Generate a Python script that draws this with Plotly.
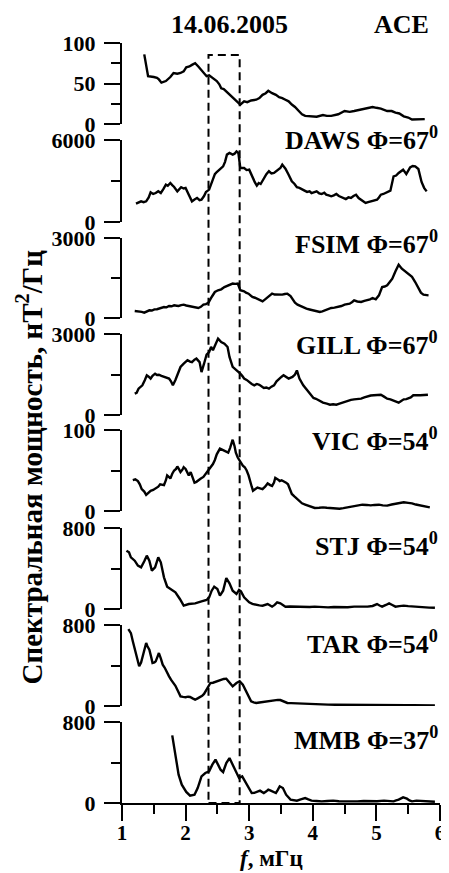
import plotly.graph_objects as go

# ---------------- data ----------------
ace_f = [1.35,1.41,1.50,1.55,1.58,1.62,1.69,1.76,1.81,1.87,1.92,1.97,2.01,2.06,2.10,2.15,2.20,2.27,2.33,2.37,2.41,2.45,2.49,2.53,2.56,2.60,2.64,2.68,2.72,2.76,2.80,2.86,2.92,2.97,3.03,3.11,3.16,3.21,3.26,3.30,3.36,3.42,3.47,3.52,3.57,3.62,3.67,3.72,3.78,3.83,3.88,3.98,4.06,4.16,4.22,4.29,4.40,4.50,4.58,4.65,4.72,4.78,4.86,4.94,5.00,5.07,5.17,5.24,5.30,5.36,5.43,5.50,5.56,5.65,5.76]
ace_p = [86,59,58,57,55,51,53,58,63,62,63,65,70,71,73,75,71,65,59,60,58,55,53,49,44,43,40,38,35,32,28,24,28,27,29,30,32,36,38,41,38,36,33,32,30,28,24,21,16,12,10,9.5,9,11,10,10,12,16,15,16,17,18,19,21,20,19,16,16,14,13,9.5,8,5.5,6,6]

daws_f = [1.22,1.26,1.30,1.34,1.38,1.42,1.45,1.49,1.53,1.57,1.61,1.65,1.69,1.72,1.76,1.79,1.82,1.87,1.90,1.93,1.97,2.00,2.05,2.10,2.14,2.18,2.22,2.25,2.29,2.32,2.37,2.40,2.43,2.46,2.49,2.54,2.59,2.62,2.65,2.69,2.74,2.77,2.80,2.83,2.86,2.92,2.96,3.00,3.03,3.06,3.09,3.12,3.15,3.18,3.23,3.27,3.31,3.35,3.39,3.45,3.49,3.52,3.57,3.62,3.67,3.71,3.75,3.79,3.83,3.87,3.91,3.95,3.98,4.02,4.06,4.10,4.14,4.18,4.21,4.25,4.29,4.33,4.37,4.41,4.45,4.49,4.52,4.56,4.60,4.64,4.68,4.72,4.76,4.80,4.83,4.87,4.91,4.96,5.01,5.04,5.07,5.11,5.14,5.18,5.22,5.27,5.31,5.35,5.39,5.42,5.47,5.50,5.53,5.57,5.61,5.66,5.71,5.75,5.79]
daws_p = [1340,1400,1510,1450,1510,1800,2170,2050,2120,2250,2120,2400,2730,2650,2850,2700,2560,2240,2400,2540,2450,2490,2000,1510,1650,1760,1600,1630,1900,2200,2370,2800,3220,3500,3660,3900,4070,4400,4930,5050,4930,5000,5170,5050,3950,3950,3800,3830,3500,3220,2900,2660,2850,2780,3220,3500,3710,3550,3590,3830,3950,4200,3900,3460,2980,2800,2540,2500,2370,2300,2200,2250,2120,2200,2240,2100,2050,2150,2000,1950,1880,1950,2050,1900,1800,1750,1680,1800,1760,1900,2000,1750,1630,1500,1390,1450,1510,1550,1630,1800,2000,2050,2120,2200,2290,3340,3400,3590,3700,3830,3510,3800,4000,4100,4070,3880,2930,2500,2240]

fsim_f = [1.20,1.27,1.31,1.35,1.39,1.43,1.47,1.51,1.55,1.58,1.62,1.66,1.70,1.74,1.78,1.82,1.86,1.89,1.93,1.97,2.01,2.05,2.09,2.12,2.16,2.20,2.24,2.28,2.32,2.36,2.41,2.46,2.51,2.56,2.61,2.67,2.74,2.78,2.82,2.86,2.92,2.95,2.99,3.02,3.05,3.09,3.13,3.17,3.21,3.25,3.29,3.32,3.36,3.40,3.44,3.48,3.52,3.56,3.60,3.65,3.72,3.76,3.80,3.85,3.90,3.95,4.01,4.06,4.11,4.15,4.19,4.24,4.29,4.34,4.40,4.45,4.50,4.54,4.58,4.62,4.65,4.70,4.76,4.81,4.86,4.90,4.94,4.99,5.04,5.09,5.13,5.17,5.21,5.25,5.30,5.35,5.40,5.44,5.48,5.52,5.56,5.61,5.66,5.70,5.74,5.82]
fsim_p = [262,250,230,200,250,288,280,325,330,350,380,412,400,450,440,475,460,450,480,500,470,450,430,412,390,375,420,500,520,575,788,975,1040,1075,1160,1225,1290,1280,1290,1040,1000,950,912,850,788,760,725,680,625,700,788,850,912,880,875,890,875,900,912,825,575,500,450,400,350,320,288,260,225,250,288,330,375,390,412,450,500,520,538,600,662,620,600,640,662,700,750,700,850,1160,1180,1225,1350,1475,1750,2000,1850,1780,1700,1620,1540,1350,1100,950,875,850]

gill_f = [1.20,1.23,1.26,1.29,1.32,1.36,1.39,1.42,1.45,1.48,1.52,1.55,1.58,1.62,1.66,1.70,1.74,1.77,1.80,1.84,1.87,1.92,1.97,2.03,2.07,2.10,2.14,2.17,2.22,2.25,2.29,2.33,2.37,2.40,2.43,2.48,2.51,2.56,2.61,2.66,2.69,2.74,2.78,2.81,2.86,2.89,2.92,2.96,3.00,3.04,3.08,3.12,3.16,3.20,3.23,3.27,3.31,3.35,3.39,3.43,3.47,3.51,3.54,3.58,3.62,3.68,3.72,3.75,3.79,3.85,3.89,3.93,3.97,4.01,4.05,4.09,4.16,4.22,4.27,4.32,4.37,4.42,4.47,4.51,4.55,4.60,4.65,4.70,4.76,4.81,4.86,4.91,4.96,5.02,5.07,5.12,5.17,5.22,5.26,5.30,5.35,5.39,5.43,5.47,5.50,5.54,5.58,5.63,5.69,5.75,5.81]
gill_p = [790,820,975,1050,1100,1300,1470,1420,1350,1450,1530,1480,1490,1450,1410,1380,1350,1250,1100,1300,1470,1780,1900,2030,1980,1960,2050,2090,1960,1590,1900,2240,2330,2520,2400,2700,2830,2700,2640,2520,2150,1780,1700,1650,1530,1450,1350,1300,1220,1150,1100,1150,1120,1050,1000,1020,975,1050,1100,1250,1350,1420,1470,1400,1350,1410,1500,1650,1350,1100,980,875,760,630,600,545,457,420,383,400,383,420,457,500,545,560,580,590,605,650,700,720,730,740,750,680,605,580,545,500,457,520,580,590,605,650,730,720,730,740,750]

vic_f = [1.17,1.21,1.25,1.28,1.31,1.35,1.38,1.42,1.45,1.49,1.53,1.57,1.60,1.63,1.66,1.69,1.71,1.74,1.76,1.79,1.82,1.85,1.87,1.90,1.92,1.95,1.97,2.00,2.03,2.05,2.08,2.11,2.14,2.17,2.20,2.24,2.28,2.32,2.36,2.40,2.43,2.46,2.49,2.54,2.57,2.60,2.64,2.67,2.70,2.72,2.74,2.77,2.79,2.82,2.86,2.90,2.93,2.96,2.99,3.01,3.04,3.06,3.10,3.13,3.17,3.21,3.25,3.29,3.33,3.36,3.39,3.41,3.45,3.48,3.51,3.54,3.58,3.61,3.64,3.67,3.71,3.75,3.79,3.83,3.88,3.93,3.98,4.03,4.10,4.16,4.22,4.29,4.35,4.42,4.48,4.55,4.60,4.65,4.72,4.78,4.85,4.91,4.97,5.04,5.10,5.17,5.24,5.32,5.38,5.43,5.50,5.56,5.62,5.69,5.76,5.84]
vic_p = [38,39,37,33,27,24,20,23,25,26,28,30,33,32,32,38,44,42,40,46,50,52,55,51,48,51,54,52,46,44,48,42,35,36,38,40,42,46,50,55,58,63,70,77,76,75,73,72,78,83,88,80,72,66,60,56,54,50,44,37,30,25,27,29,28,27,30,34,32,31,35,41,39,37,38,37,35,33,28,21,18,15,12,9.5,8,6.6,5,3.7,4,4.5,4,3.7,3,2.8,3.5,4.5,5,5.3,6.5,7.8,7.5,7.0,7.5,7.8,7,6.6,8,9.5,10,10.7,10,9.5,8,6.6,5.5,4.5]

stj_f = [1.07,1.11,1.14,1.17,1.20,1.25,1.30,1.35,1.39,1.43,1.47,1.52,1.57,1.61,1.66,1.71,1.77,1.84,1.91,1.97,2.05,2.15,2.25,2.33,2.37,2.41,2.45,2.50,2.54,2.59,2.64,2.69,2.74,2.80,2.84,2.87,2.92,2.96,3.00,3.05,3.11,3.16,3.21,3.25,3.29,3.33,3.36,3.40,3.44,3.49,3.53,3.57,3.64,3.72,3.80,3.88,3.95,4.03,4.12,4.24,4.33,4.45,4.55,4.65,4.75,4.86,4.94,5.01,5.05,5.09,5.15,5.20,5.25,5.30,5.36,5.43,5.50,5.58,5.66,5.74,5.83,5.92]
stj_p = [576,560,510,490,477,428,411,471,527,477,379,411,510,461,313,221,198,165,99,33,49,56,76,89,115,181,221,198,132,181,306,253,181,148,188,174,115,90,66,50,40,36,33,40,49,35,23,40,66,56,35,23,25,23,18,16,20,23,18,16,20,16,18,23,20,23,30,49,35,23,40,56,40,23,28,33,28,23,20,16,14,12]

tar_f = [1.10,1.14,1.17,1.20,1.22,1.25,1.27,1.30,1.32,1.35,1.38,1.40,1.43,1.46,1.48,1.51,1.53,1.56,1.58,1.61,1.64,1.67,1.69,1.72,1.74,1.77,1.81,1.84,1.87,1.92,1.96,2.00,2.04,2.07,2.11,2.15,2.19,2.23,2.26,2.29,2.34,2.39,2.43,2.46,2.50,2.54,2.57,2.60,2.64,2.69,2.74,2.80,2.85,2.90,2.96,3.00,3.03,3.07,3.11,3.16,3.21,3.26,3.31,3.36,3.41,3.45,3.49,3.55,3.60,3.66,3.72,3.80,3.88,3.96,4.03,4.14,4.24,4.35,4.45,4.55,4.65,4.75,4.86,4.97,5.07,5.17,5.27,5.38,5.48,5.58,5.69,5.80,5.92]
tar_p = [760,720,639,570,507,440,392,430,474,560,622,590,556,480,425,430,441,490,523,470,408,380,359,320,293,260,227,200,161,95,90,86,92,89,75,63,75,86,100,119,178,227,230,237,245,250,260,267,270,227,194,227,244,211,128,80,46,35,30,35,40,44,46,55,63,60,59,45,30,28,26,25,23,20,16,15,14,13,12,11,10,10,9,9,8,8,8,8,8,8,7,7,6]

mmb_f = [1.79,1.82,1.85,1.89,1.94,2.01,2.07,2.14,2.19,2.22,2.25,2.31,2.37,2.42,2.47,2.51,2.55,2.59,2.64,2.69,2.74,2.80,2.84,2.89,2.94,2.99,3.04,3.08,3.11,3.14,3.17,3.20,3.23,3.27,3.30,3.33,3.36,3.39,3.42,3.45,3.48,3.53,3.58,3.65,3.70,3.75,3.81,3.88,3.93,3.98,4.06,4.14,4.23,4.32,4.41,4.50,4.60,4.70,4.80,4.91,5.01,5.12,5.20,5.27,5.31,5.35,5.42,5.48,5.52,5.56,5.63,5.69,5.75,5.81,5.87,5.92]
mmb_p = [668,543,411,280,181,109,72,82,148,210,263,296,313,379,428,379,329,306,395,444,379,296,247,263,207,148,99,100,109,115,122,110,99,115,132,125,115,105,99,130,165,148,82,33,28,23,35,49,35,23,20,16,20,23,18,16,18,16,20,16,18,23,20,16,25,33,56,43,25,16,23,20,16,18,14,12]

series_f = [ace_f, daws_f, fsim_f, gill_f, vic_f, stj_f, tar_f, mmb_f]
series_p = [ace_p, daws_p, fsim_p, gill_p, vic_p, stj_p, tar_p, mmb_p]
panel_top = [100, 6000, 3000, 3000, 100, 800, 800, 800]
labels = ["", "DAWS Φ=67<sup>0</sup>", "FSIM Φ=67<sup>0</sup>", "GILL Φ=67<sup>0</sup>",
          "VIC Φ=54<sup>0</sup>", "STJ Φ=54<sup>0</sup>", "TAR Φ=54<sup>0</sup>", "MMB Φ=37<sup>0</sup>"]
x_ticks = [1, 2, 3, 4, 5, 6]
band = [2.36, 2.85]

# ---------------- layout helpers ----------------
W, H = 449, 873
L, R, T, B = 114, 12, 35, 78
ph = H - T - B
tops_px = [35, 132, 230, 326, 422, 520, 617, 714]
bots_px = [116, 214, 310, 407, 503, 601, 698, 795]
label_y_px = [0, 130, 234, 335, 431, 536, 634, 730]

def py(p):
    return (H - B - p) / ph

def px(p):
    return (p - L) / (W - L - R)

FONT = "Liberation Serif, Times New Roman, serif"

fig = go.Figure()
layout = dict(
    width=W, height=H,
    margin=dict(l=L, r=R, t=T, b=B),
    plot_bgcolor="white", paper_bgcolor="white",
    showlegend=False,
    font=dict(family=FONT, color="black"),
)

layout["xaxis"] = dict(
    domain=[0, 1], anchor="y8", range=[1, 6],
    tickmode="array", tickvals=x_ticks, ticktext=[str(v) for v in x_ticks],
    ticks="outside", ticklen=16, tickwidth=2, tickcolor="black",
    minor=dict(tickvals=[1.5, 2.5, 3.5, 4.5, 5.5], ticks="outside", ticklen=9, tickwidth=2, tickcolor="black"),
    showline=True, linecolor="black", linewidth=2,
    showgrid=False, zeroline=False,
    tickfont=dict(family=FONT, size=21, color="black", weight="bold"),
    ticklabelstandoff=-6,
)

for i in range(8):
    name = "yaxis" if i == 0 else f"yaxis{i+1}"
    top = panel_top[i]
    if i == 0:
        tv = [0, 50, 100]
        mv = [25, 75]
    else:
        tv = [0, top]
        mv = [top / 2]
    layout[name] = dict(
        domain=[py(bots_px[i]), py(tops_px[i])], anchor="x", range=[0, top],
        tickmode="array", tickvals=tv, ticktext=[str(v) for v in tv],
        ticks="outside", ticklen=16, tickwidth=2, tickcolor="black",
        minor=dict(tickvals=mv, ticks="outside", ticklen=9, tickwidth=2, tickcolor="black"),
        showline=True, linecolor="black", linewidth=2,
        showgrid=False, zeroline=False,
        tickfont=dict(family=FONT, size=22, color="black", weight="bold"),
        ticklabelstandoff=4,
    )
    fig.add_trace(go.Scatter(
        x=series_f[i], y=series_p[i], mode="lines",
        line=dict(color="black", width=2.4),
        xaxis="x", yaxis="y" if i == 0 else f"y{i+1}",
        hoverinfo="skip",
    ))

annotations = []
for i in range(1, 8):
    annotations.append(dict(
        text=f"<b>{labels[i]}</b>", xref="paper", yref="paper",
        x=px(437), y=py(label_y_px[i]), xanchor="right", yanchor="middle",
        showarrow=False, font=dict(family=FONT, size=26, color="black"),
    ))
annotations.append(dict(text="<b>14.06.2005</b>", xref="paper", yref="paper",
                        x=px(223), y=py(16), xanchor="center", yanchor="middle",
                        showarrow=False, font=dict(family=FONT, size=26, color="black")))
annotations.append(dict(text="<b>ACE</b>", xref="paper", yref="paper",
                        x=px(428), y=py(16), xanchor="right", yanchor="middle",
                        showarrow=False, font=dict(family=FONT, size=26, color="black")))
annotations.append(dict(text="<b>Спектральная мощность, нТ<sup>2</sup>/Гц</b>", xref="paper", yref="paper",
                        x=px(20), y=py(459), xanchor="center", yanchor="middle", textangle=-90,
                        showarrow=False, font=dict(family=FONT, size=29, color="black")))
annotations.append(dict(text="<b><i>f</i>, мГц</b>", xref="paper", yref="paper",
                        x=px(266), y=py(850), xanchor="center", yanchor="middle",
                        showarrow=False, font=dict(family=FONT, size=23, color="black")))
layout["annotations"] = annotations

layout["shapes"] = [dict(
    type="rect", xref="x", yref="paper",
    x0=band[0], x1=band[1], y0=py(795), y1=py(47),
    line=dict(color="black", width=2, dash="8px,5px"),
    fillcolor="rgba(0,0,0,0)",
)]

fig.update_layout(**layout)
fig.write_html("out.html")
